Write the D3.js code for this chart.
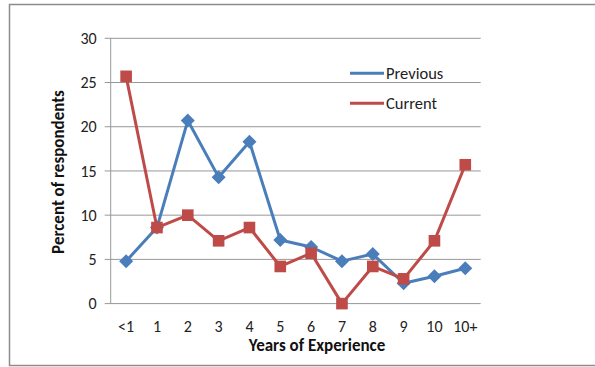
<!DOCTYPE html>
<html><head><meta charset="utf-8">
<script src="https://cdn.jsdelivr.net/npm/d3@7"></script>
<style>
html,body{margin:0;padding:0;background:#fff;}
text{font-family:Carlito,Calibri,Lato,"Open Sans",sans-serif;}
</style></head>
<body><svg id="c" width="595" height="367"></svg>
<script>
const categories = ["<1","1","2","3","4","5","6","7","8","9","10","10+"];
const previous = [4.8, 8.6, 20.7, 14.3, 18.3, 7.2, 6.4, 4.8, 5.6, 2.3, 3.1, 4.0];
const current = [25.7, 8.6, 10.0, 7.1, 8.6, 4.2, 5.7, 0.0, 4.2, 2.8, 7.1, 15.7];
const yTicks = [0, 5, 10, 15, 20, 25, 30];
const seriesNames = ["Previous", "Current"];

(function () {
const svg = d3.select("#c");
const blue = "#4A7EBB", red = "#BE4B48";
const pLeft = 110.7, pRight = 480.7, pTop = 38.3, pBottom = 303.6;

svg.append("rect").attr("x", 9.5).attr("y", 4.5).attr("width", 600).attr("height", 361)
  .attr("fill", "none").attr("stroke", "#8c8c8c").attr("stroke-width", 1.5);

const x = d3.scaleBand().domain(categories).range([pLeft, pRight]);
const y = d3.scaleLinear().domain([0, 30]).range([pBottom, pTop]);

svg.append("g").selectAll("line").data(yTicks).join("line")
  .attr("x1", pLeft - 6).attr("x2", pRight)
  .attr("y1", d => y(d)).attr("y2", d => y(d))
  .attr("stroke", "#989898").attr("stroke-width", 1);

svg.append("line").attr("x1", pLeft).attr("x2", pLeft).attr("y1", pTop).attr("y2", pBottom)
  .attr("stroke", "#989898").attr("stroke-width", 1);

svg.append("g").selectAll("text").data(yTicks).join("text")
  .attr("x", pLeft - 14).attr("y", d => y(d)).attr("dy", "0.35em")
  .attr("text-anchor", "end").attr("font-size", 16).attr("fill", "#222")
  .text(d => d);

svg.append("g").selectAll("text").data(categories).join("text")
  .attr("x", d => x(d) + x.bandwidth() / 2).attr("y", 326).attr("dy", "0.35em")
  .attr("text-anchor", "middle").attr("font-size", 16).attr("fill", "#222")
  .text(d => d);

svg.append("text").attr("x", 317).attr("y", 345).attr("dy", "0.35em")
  .attr("text-anchor", "middle").attr("font-size", 17).attr("font-weight", "bold").attr("fill", "#111")
  .text("Years of Experience");
svg.append("text").attr("transform", "translate(58,172) rotate(-90)").attr("dy", "0.35em")
  .attr("text-anchor", "middle").attr("font-size", 17).attr("font-weight", "bold").attr("fill", "#111")
  .text("Percent of respondents");

const line = d3.line().x((d, i) => x(categories[i]) + x.bandwidth() / 2).y(d => y(d));
const diamond = d3.symbol().type(d3.symbolDiamond2).size(125);
const square = d3.symbol().type(d3.symbolSquare).size(135);

function drawSeries(vals, color, sym) {
  svg.append("path").datum(vals).attr("d", line).attr("fill", "none")
    .attr("stroke", color).attr("stroke-width", 3).attr("stroke-linejoin", "round");
  svg.append("g").selectAll("path").data(vals).join("path")
    .attr("d", sym)
    .attr("transform", (d, i) => `translate(${x(categories[i]) + x.bandwidth() / 2},${y(d)})`)
    .attr("fill", color);
}
drawSeries(previous, blue, diamond);
drawSeries(current, red, square);

const legend = [{name: seriesNames[0], color: blue, sym: diamond, y: 73.3},
                {name: seriesNames[1], color: red, sym: square, y: 103.3}];
const lg = svg.append("g").selectAll("g").data(legend).join("g");
lg.append("line").attr("x1", 350).attr("x2", 384).attr("y1", d => d.y).attr("y2", d => d.y)
  .attr("stroke", d => d.color).attr("stroke-width", 3);
lg.append("path").attr("d", d => d.sym)
  .attr("transform", d => `translate(367,${d.y})`).attr("fill", d => d.color);
lg.append("text").attr("x", 386).attr("y", d => d.y).attr("dy", "0.35em")
  .attr("font-size", 16.5).attr("fill", "#222").text(d => d.name);
})();
</script></body></html>
